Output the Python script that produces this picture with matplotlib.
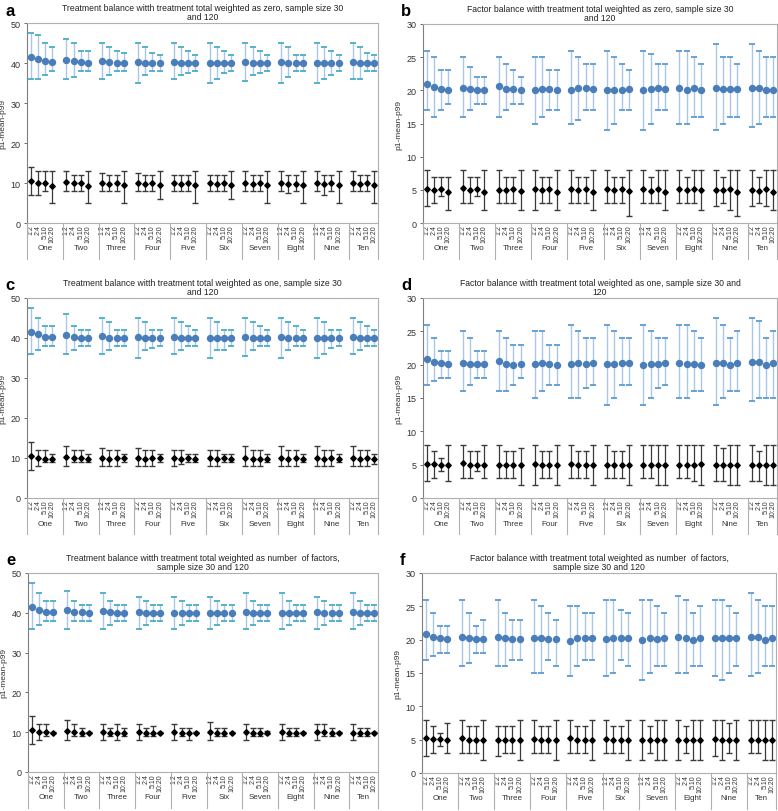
import matplotlib
matplotlib.use('Agg')
import matplotlib.pyplot as plt
import matplotlib.transforms as mtransforms
import numpy as np

plt.rcParams['font.family'] = ['Liberation Sans', 'DejaVu Sans']

GROUPS = ["One", "Two", "Three", "Four", "Five", "Six", "Seven", "Eight", "Nine", "Ten"]
RATIOS = ["1:2", "2:4", "5:10", "10:20"]

# --- panel a: treatment balance, weighted as zero ---
a_blue_mean = [41.5, 41.0, 40.5, 40.3,  40.7, 40.5, 40.2, 40.1,  40.5, 40.2, 40.1, 40.0,  40.2, 40.0, 40.0, 40.0,
               40.2, 40.0, 40.0, 40.0,  40.1, 40.0, 39.9, 39.9,  40.2, 40.0, 39.9, 40.0,  40.2, 39.9, 39.9, 39.9,
               40.1, 39.9, 39.9, 40.0,  40.2, 40.0, 40.0, 39.9]
a_blue_hi = [47.5, 47, 45, 44,  46, 45, 43, 43,  45, 44, 43, 42.5,  45, 44, 42.5, 42,  45, 44, 43, 42,
             45, 44, 43, 42,  45, 44, 43, 42,  45, 44, 42, 42,  45, 44, 43, 42,  45, 44, 42.5, 42]
a_blue_lo = [36, 36, 37, 38,  36, 36.5, 38, 38,  36, 37, 38, 38,  35, 37, 38, 38,  36, 37, 37.5, 38,
             35, 36, 37.5, 38,  35.5, 37, 37.5, 38,  35, 36.5, 38, 38,  35, 36, 37, 38,  36, 36, 38, 38]
a_black_mean = [10.5, 10.0, 10.0, 9.3,  10.3, 10.0, 10.0, 9.2,  10.1, 9.8, 10.0, 9.5,  10.0, 9.8, 10.0, 9.5,
                10.0, 9.8, 10.0, 9.4,  10.0, 9.8, 10.0, 9.5,  10.0, 9.8, 10.0, 9.5,  10.0, 9.8, 9.8, 9.5,
                10.0, 9.7, 9.9, 9.5,  10.0, 9.8, 9.9, 9.5]
a_black_hi = [14, 13, 13, 13,  13, 12, 12, 13,  12.5, 12, 12, 13,  12.5, 12, 12, 13,  12, 12, 12, 13,
              12, 12, 12, 13,  13, 12, 12, 13,  13, 12, 12, 13,  13, 12, 12, 13,  13, 12, 12, 13]
a_black_lo = [7, 7, 8, 5,  8, 8, 8, 5,  8, 8, 8, 5,  8, 8, 8, 6,  8, 8, 8, 5,
              8, 8, 8, 6,  8, 8, 8, 5,  8, 7.5, 8, 5,  8, 7, 8, 5,  8, 8, 8, 5]

# --- panel b: factor balance, weighted as zero ---
b_blue_mean = [20.9, 20.5, 20.2, 20.1,  20.3, 20.2, 20.1, 20.1,  20.6, 20.2, 20.2, 20.1,  20.0, 20.2, 20.2, 20.1,
               20.1, 20.3, 20.3, 20.2,  20.1, 20.1, 20.1, 20.2,  20.1, 20.2, 20.4, 20.2,  20.3, 20.1, 20.3, 20.1,
               20.4, 20.2, 20.2, 20.2,  20.4, 20.3, 20.1, 20.0]
b_blue_hi = [26, 25, 23, 23,  25, 23.5, 22, 22,  25, 24, 23, 22,  25, 25, 23, 23,  26, 25, 24, 24,
             26, 25, 24, 23,  26, 25.5, 24, 24,  26, 26, 25, 24,  27, 25, 25, 24,  27, 26, 25, 25]
b_blue_lo = [17, 16, 17, 18,  16, 17, 18, 18,  16, 17, 18, 18,  15, 16, 17, 17,  15, 15.5, 17, 17,
             14, 15, 17, 17,  14, 15, 17, 17,  15, 15, 16, 16,  14, 15, 16, 16,  14.5, 15, 16, 16]
b_black_mean = [5.2, 5.0, 5.1, 4.6,  5.3, 5.0, 5.1, 4.7,  5.0, 4.9, 5.1, 4.8,  5.2, 4.9, 5.1, 4.7,
                5.2, 4.9, 5.1, 4.7,  5.1, 4.9, 5.1, 4.8,  5.1, 4.8, 5.1, 4.7,  5.1, 5.0, 5.1, 4.9,
                5.0, 4.9, 5.1, 4.7,  5.0, 4.8, 5.1, 4.7]
b_black_hi = [8, 7, 7, 7,  8, 7, 7, 8,  8, 7, 7, 8,  8, 7, 7, 8,  8, 7, 7, 8,
              8, 7, 7, 8,  8, 7, 8, 8,  8, 7, 8, 8,  8, 7, 8, 8,  8, 7, 8, 8]
b_black_lo = [2.5, 3, 4, 2,  3, 3, 4, 2,  3, 3, 3, 2,  2, 3, 3, 2,  3, 3, 3, 2,
              3, 3, 3, 1,  3, 3, 3, 2,  3, 3, 3, 2,  2.5, 3, 2, 1,  2.5, 3, 2.5, 2]

# --- panel c: treatment balance, weighted as one ---
c_blue_mean = [41.6, 40.9, 40.3, 40.2,  40.8, 40.2, 40.1, 40.1,  40.5, 40.1, 40.0, 40.0,  40.2, 40.0, 39.9, 40.0,
               40.2, 40.0, 40.0, 40.0,  40.1, 40.0, 39.9, 39.9,  40.2, 40.0, 40.0, 39.9,  40.2, 40.0, 39.9, 40.0,
               40.1, 40.0, 39.9, 39.9,  40.2, 40.0, 40.0, 39.9]
c_blue_hi = [47.5, 45, 43, 43,  46, 43, 42, 42,  45, 44, 42, 42,  45, 44, 42, 42,  45, 44, 43, 42,
             45, 44, 42, 42,  45, 44, 43, 42,  45, 44, 43, 42,  45, 44, 42, 42,  45, 44, 43, 42]
c_blue_lo = [36, 37, 38, 38,  36, 37, 38, 38,  36, 37, 38, 38,  35, 37, 37.5, 38,  36, 37, 38, 38,
             35, 37, 37, 38,  35.5, 37, 38, 38,  35, 37, 38, 38,  35, 36, 37.5, 38,  36, 37, 38, 38]
c_black_mean = [10.4, 10.0, 9.8, 9.8,  10.2, 9.9, 9.9, 9.8,  10.0, 9.8, 9.9, 9.9,  10.0, 9.8, 9.9, 9.9,
                10.0, 9.8, 9.9, 9.8,  10.0, 9.8, 9.9, 9.8,  10.0, 9.8, 9.8, 9.8,  10.0, 9.8, 9.9, 9.8,
                10.0, 9.8, 9.9, 9.8,  10.0, 9.8, 9.9, 9.8]
c_black_hi = [14, 12, 12, 11,  13, 12, 12, 11,  12.5, 12, 12, 11,  12.5, 12, 12, 11,  12, 12, 11, 11,
              12, 12, 11, 11,  13, 12, 12, 11,  13, 12, 12, 11,  13, 12, 12, 11,  13, 12, 12, 11]
c_black_lo = [7, 8, 9, 9,  8, 9, 9, 9,  8, 8, 8, 9,  8, 8, 8, 9,  8, 8.5, 9, 9,
              8, 8, 9, 9,  8, 8, 8, 9,  8, 8, 8, 9,  8, 8, 8, 9,  8, 8, 8, 8.5]

# --- panel d: factor balance, weighted as one ---
d_blue_mean = [20.9, 20.4, 20.2, 20.1,  20.3, 20.1, 20.1, 20.1,  20.5, 20.1, 20.0, 20.1,  20.1, 20.2, 20.1, 20.0,
               20.1, 20.2, 20.1, 20.2,  20.1, 20.1, 20.2, 20.2,  20.0, 20.1, 20.1, 20.3,  20.3, 20.1, 20.1, 20.0,
               20.3, 20.2, 20.0, 20.2,  20.4, 20.4, 20.0, 20.2]
d_blue_hi = [26, 24, 22, 22,  25, 24, 22, 22,  25, 24, 23, 23,  25, 25, 23, 23,  26, 25, 24, 24,
             26, 25, 24, 24,  26, 25, 24, 24,  26, 26, 25, 24,  27, 26, 24, 25,  27, 26.5, 24, 25]
d_blue_lo = [17, 17.5, 18, 18,  16, 17, 18, 18,  16, 16, 17, 18,  15, 16, 17, 17,  15, 15, 16.5, 17,
             14, 15, 17, 17,  14, 15, 16.5, 17,  15, 15, 16, 16,  14, 15, 16, 16,  14.5, 15, 15, 15]
d_black_mean = [5.1, 5.1, 5.0, 4.9,  5.3, 5.0, 5.0, 5.0,  5.0, 4.9, 5.0, 5.0,  5.1, 5.0, 5.0, 4.9,
                5.1, 5.0, 5.0, 5.0,  5.0, 5.0, 5.0, 5.0,  5.0, 5.0, 5.0, 4.9,  5.0, 5.0, 4.9, 5.1,
                5.0, 5.0, 5.0, 4.9,  5.0, 5.0, 5.0, 5.0]
d_black_hi = [8, 7, 6, 8,  8, 7, 7, 8,  8, 7, 7, 7.5,  8, 7, 7, 8,  8, 7, 7, 8,
              8, 7, 7, 8,  8, 8, 8, 8,  8, 8, 8, 8,  8, 7.5, 8, 8,  8, 7, 8, 8]
d_black_lo = [2.5, 3, 4, 2.5,  3, 3, 4, 3,  3, 3, 3, 2,  2, 3, 3, 2,  3, 3, 3, 2,
              3, 3, 3, 2,  3, 3, 2, 2,  3, 3, 2.5, 2,  2.5, 2.5, 2, 2,  2.5, 2.5, 2, 2]

# --- panel e: treatment balance, weighted as number of factors ---
e_blue_mean = [41.5, 40.8, 40.2, 40.1,  40.8, 40.1, 40.1, 40.0,  40.4, 40.2, 40.0, 40.0,  40.2, 40.0, 40.0, 40.0,
               40.0, 40.0, 40.0, 40.0,  40.0, 40.0, 40.0, 40.0,  40.1, 40.0, 39.9, 40.0,  40.0, 39.9, 39.9, 40.0,
               40.1, 40.0, 39.9, 39.9,  40.1, 40.0, 40.0, 40.0]
e_blue_hi = [47.5, 45, 43, 43,  45.5, 43, 42, 42,  45, 43, 42, 42,  44, 43, 42, 42,  44, 43, 42, 42,
             44, 43, 42, 42,  45, 43, 42, 42,  45, 43, 42, 42,  44, 43, 42, 42,  45, 43, 42, 42]
e_blue_lo = [36, 37, 38, 38,  36, 38, 38, 38,  36, 37, 38, 38,  36, 37, 38, 38,  36, 37, 38, 38,
             36, 37, 38, 38,  36, 37, 38, 38,  36, 37, 38, 38,  36, 37, 38, 38,  36, 37, 38, 38]
e_black_mean = [10.5, 10.0, 10.0, 9.9,  10.2, 10.0, 9.9, 9.9,  10.0, 9.9, 9.9, 9.8,  10.0, 9.9, 9.9, 9.9,
                10.0, 9.9, 9.9, 9.9,  10.0, 9.9, 9.9, 9.9,  10.0, 9.9, 9.9, 9.9,  10.0, 9.9, 9.9, 9.9,
                10.0, 10.0, 9.9, 9.9,  9.9, 9.9, 9.9, 9.9]
e_black_hi = [14, 12, 12, 10,  13, 12, 11, 10,  12, 11, 12, 11,  12, 11, 11.5, 10,  12, 11, 11, 10,
              12.5, 11, 11, 10,  12, 11, 11, 10.3,  12, 11, 11, 10,  12, 12, 11, 10,  12, 11, 11, 10]
e_black_lo = [7, 8, 9, 9.8,  8, 9, 9, 9.8,  8, 9, 8, 9,  8, 9, 9, 9.8,  8, 9, 8, 9.8,
              8, 9, 9, 9.8,  8, 9, 9, 9.6,  8, 9, 9, 9.8,  8, 9, 9, 9.8,  8, 9, 9, 9.8]

# --- panel f: factor balance, weighted as number of factors ---
f_blue_mean = [20.9, 20.4, 20.2, 20.1,  20.4, 20.2, 20.1, 20.1,  20.4, 20.2, 20.1, 20.1,  20.3, 20.2, 20.1, 20.1,
               19.8, 20.2, 20.2, 20.2,  20.1, 20.3, 20.2, 20.3,  20.0, 20.2, 20.1, 20.2,  20.4, 20.3, 20.0, 20.2,
               20.3, 20.2, 20.2, 20.2,  20.4, 20.4, 20.0, 20.2]
f_blue_hi = [26, 24, 22, 22,  26, 24, 22, 23,  26, 24, 23, 23,  26, 25, 24, 23,  25, 25, 24, 24,
             26, 26, 24.5, 24,  26, 26, 25, 24,  26.5, 26, 24, 25,  26, 26, 25, 24,  27, 26, 25, 25]
f_blue_lo = [17, 17.5, 18, 18,  16, 16.5, 18, 18,  16, 16, 17, 17,  15, 15, 17, 16,  14.5, 16, 17, 17,
             14.5, 15, 17, 16,  14, 15, 16, 16,  15, 15, 16, 16,  14.5, 14, 15, 16,  14.5, 15, 16, 16]
f_black_mean = [5.2, 5.1, 5.1, 5.0,  5.2, 5.0, 5.0, 5.0,  5.0, 4.9, 5.0, 5.0,  5.1, 5.0, 5.0, 5.0,
                5.2, 5.0, 5.0, 5.0,  5.1, 5.0, 5.0, 5.0,  5.0, 5.0, 5.0, 4.9,  5.0, 5.0, 5.0, 5.0,
                5.1, 5.0, 5.0, 4.9,  5.0, 5.0, 5.0, 4.9]
f_black_hi = [8, 7, 6, 7.5,  8, 7, 7, 8,  7, 7, 7, 8,  8, 7, 7, 8,  8, 7, 7, 8,
              8, 7, 7, 8,  8, 7, 8, 8,  8, 7, 8, 8,  8, 8, 7.5, 8,  8, 8, 8, 8]
f_black_lo = [2.5, 3, 4, 3,  3, 3, 3, 2,  2.5, 3, 3, 2,  3, 3, 3, 2,  3, 3, 3, 2,
              3, 3, 3, 2,  2, 3, 2, 2,  2, 3, 2, 2,  2.5, 2, 3, 2,  3, 3, 2, 2]

TITLES = {
    "a": "Treatment balance witth treatment total weighted as zero, sample size 30\nand 120",
    "b": "Factor balance witth treatment total weighted as zero, sample size 30\nand 120",
    "c": "Treatment balance witth treatment total weighted as one, sample size 30\nand 120",
    "d": "Factor balance witth treatment total weighted as one, sample size 30 and\n120",
    "e": "Treatment balance witth treatment total weighted as number  of factors,\nsample size 30 and 120",
    "f": "Factor balance witth treatment total weighted as number  of factors,\nsample size 30 and 120",
}

PANELS = [
    ("a", (a_blue_mean, a_blue_lo, a_blue_hi), (a_black_mean, a_black_lo, a_black_hi), 50, 10),
    ("b", (b_blue_mean, b_blue_lo, b_blue_hi), (b_black_mean, b_black_lo, b_black_hi), 30, 5),
    ("c", (c_blue_mean, c_blue_lo, c_blue_hi), (c_black_mean, c_black_lo, c_black_hi), 50, 10),
    ("d", (d_blue_mean, d_blue_lo, d_blue_hi), (d_black_mean, d_black_lo, d_black_hi), 30, 5),
    ("e", (e_blue_mean, e_blue_lo, e_blue_hi), (e_black_mean, e_black_lo, e_black_hi), 50, 10),
    ("f", (f_blue_mean, f_blue_lo, f_blue_hi), (f_black_mean, f_black_lo, f_black_hi), 30, 5),
]

# axes boxes in pixels (left, top, right, bottom) on a 778x812 canvas
W, H = 778, 812
BOXES = {
    "a": (27, 24, 378, 224), "b": (423, 25, 777, 224),
    "c": (27, 299, 378, 499), "d": (423, 299, 777, 499),
    "e": (28, 574, 378, 773), "f": (422, 574, 776, 774),
}

# 4 categories per group + one blank slot between groups
xpos = np.array([g * 5 + i for g in range(10) for i in range(4)])

fig = plt.figure(figsize=(W / 100, H / 100), dpi=100)

for key, blue, black, ymax, ystep in PANELS:
    l, t, r, b = BOXES[key]
    ax = fig.add_axes([l / W, 1 - b / H, (r - l) / W, (b - t) / H])
    cap_col = "#4bacc6" if ymax == 50 else "#5b9bd5"

    m, lo, hi = (np.array(v) for v in blue)
    ax.errorbar(xpos, m, yerr=[m - lo, hi - m], fmt="none", ecolor="#a9c8e8",
                elinewidth=1.0, capsize=0)
    ax.plot(xpos, lo, "_", color=cap_col, ms=4.5, mew=1.3)
    ax.plot(xpos, hi, "_", color=cap_col, ms=4.5, mew=1.3)
    ax.plot(xpos, m, "o", color="#4a7ebb", ms=4.3, mec="#4a7ebb")

    m, lo, hi = (np.array(v) for v in black)
    ax.errorbar(xpos, m, yerr=[m - lo, hi - m], fmt="none", ecolor="#3a3a3a",
                elinewidth=0.9, capsize=2.2, capthick=1.0)
    ax.plot(xpos, m, "D", color="black", ms=2.8)

    ax.set_xlim(-0.5, 48.5)
    ax.set_ylim(0, ymax)
    ax.set_yticks(np.arange(0, ymax + 1, ystep))
    ax.tick_params(axis="y", labelsize=6.5, length=2.5, width=0.6, colors="#555555",
                   labelcolor="#333333", pad=2)
    ax.set_xticks(xpos)
    ax.set_xticklabels(RATIOS * 10, rotation=90, fontsize=5.0, color="#333333",
                       linespacing=0.9)
    ax.tick_params(axis="x", length=0, pad=1.0)
    for side in ["top", "right", "bottom"]:
        ax.spines[side].set_color("#b0b0b0")
        ax.spines[side].set_linewidth(0.8)
    ax.spines["left"].set_color("#7f7f7f")
    ax.spines["left"].set_linewidth(0.8)

    # second category level: group separators and names
    trans = mtransforms.blended_transform_factory(ax.transData, ax.transAxes)
    seps = [g * 5 - 0.5 for g in range(10)] + [48.5]
    for s in seps:
        ax.plot([s, s], [0, -0.18], transform=trans, color="#b0b0b0", lw=0.8,
                clip_on=False)
    for g, name in enumerate(GROUPS):
        cx = (seps[g] + seps[g + 1]) / 2
        ax.text(cx, -0.125, name, transform=trans, ha="center", va="center",
                fontsize=5.8, color="#333333")

    ax.set_ylabel("p1-mean-p99", fontsize=6, color="#333333", labelpad=3)
    ax.set_title(TITLES[key], fontsize=6.2, color="#222222", pad=3, linespacing=1.0)
    fig.text((l - 22) / W, 1 - (t - 13) / H, key, fontsize=12, fontweight="bold",
             ha="left", va="center")

fig.savefig("out.png", dpi=100)
